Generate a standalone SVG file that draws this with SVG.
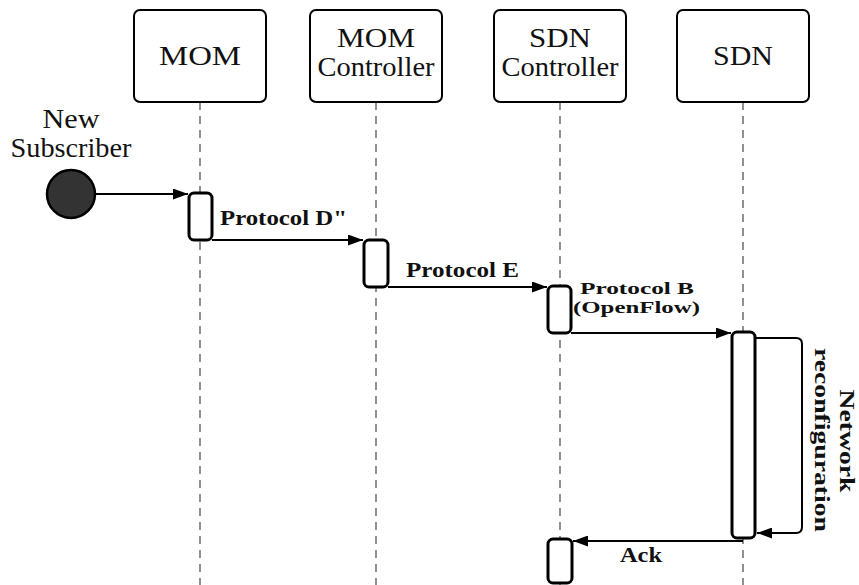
<svg xmlns="http://www.w3.org/2000/svg" width="859" height="585" viewBox="0 0 859 585">
<style>
.box{fill:#fff;stroke:#000;stroke-width:2}
.life{stroke:#555;stroke-width:1.3;stroke-dasharray:8 6;fill:none}
.act{fill:#fff;stroke:#000;stroke-width:3}
.msg{stroke:#000;stroke-width:2;fill:none}
.t{font-family:"Liberation Serif",serif;font-size:27px;fill:#111;text-anchor:middle}
.b{font-family:"Liberation Serif",serif;font-size:20px;font-weight:bold;fill:#111}
.s{font-size:16px}
</style>
<defs>
<marker id="ah" markerWidth="15" markerHeight="11" refX="15" refY="5.5" orient="auto" markerUnits="userSpaceOnUse">
<path d="M0,0 L15,5.5 L0,11 Z" fill="#000"/>
</marker>
</defs>
<g id="lifelines">
<line class="life" x1="200" y1="102" x2="200" y2="585"/>
<line class="life" x1="376" y1="102" x2="376" y2="585"/>
<line class="life" x1="560" y1="102" x2="560" y2="585"/>
<line class="life" x1="743" y1="102" x2="743" y2="585"/>
</g>
<g id="mom">
<rect class="box" x="134" y="10" width="132" height="92" rx="6"/>
<text class="t" x="200" y="65" textLength="82" lengthAdjust="spacingAndGlyphs">MOM</text>
</g>
<g id="mom-controller">
<rect class="box" x="310" y="10" width="132" height="92" rx="6"/>
<text class="t" x="376" y="47" textLength="78" lengthAdjust="spacingAndGlyphs">MOM</text>
<text class="t" x="376" y="76" textLength="117" lengthAdjust="spacingAndGlyphs">Controller</text>
</g>
<g id="sdn-controller">
<rect class="box" x="494" y="10" width="132" height="92" rx="6"/>
<text class="t" x="560" y="47" textLength="62" lengthAdjust="spacingAndGlyphs">SDN</text>
<text class="t" x="560" y="76" textLength="117" lengthAdjust="spacingAndGlyphs">Controller</text>
</g>
<g id="sdn">
<rect class="box" x="677" y="10" width="132" height="92" rx="6"/>
<text class="t" x="743" y="65" textLength="60" lengthAdjust="spacingAndGlyphs">SDN</text>
</g>
<g id="new-subscriber">
<text class="t" x="71" y="128" textLength="57" lengthAdjust="spacingAndGlyphs">New</text>
<text class="t" x="71" y="157" textLength="121" lengthAdjust="spacingAndGlyphs">Subscriber</text>
<circle cx="71" cy="194" r="24" fill="#333" stroke="#000" stroke-width="2.5"/>
</g>
<g id="activations">
<rect class="act" x="189" y="193" width="23" height="47" rx="5"/>
<rect class="act" x="364" y="240" width="24" height="47" rx="5"/>
<rect class="act" x="548" y="286" width="23" height="47" rx="5"/>
<rect class="act" x="732" y="332" width="23" height="206" rx="5"/>
<rect class="act" x="548" y="539" width="24" height="44" rx="5"/>
</g>
<g id="connectors">
<line class="msg" x1="95" y1="194" x2="188" y2="194" marker-end="url(#ah)"/>
<line class="msg" x1="212" y1="240" x2="363" y2="240" marker-end="url(#ah)"/>
<line class="msg" x1="388" y1="287" x2="547" y2="287" marker-end="url(#ah)"/>
<line class="msg" x1="571" y1="333" x2="731" y2="333" marker-end="url(#ah)"/>
<path class="msg" d="M756,338 L796,338 Q802,338 802,344 L802,527 Q802,533 796,533 L757,533" marker-end="url(#ah)"/>
<line class="msg" x1="743" y1="541" x2="573" y2="541" marker-end="url(#ah)"/>
</g>
<g id="labels">
<text class="b" x="220" y="225" textLength="127" lengthAdjust="spacingAndGlyphs">Protocol D"</text>
<text class="b" x="406" y="277" textLength="113" lengthAdjust="spacingAndGlyphs">Protocol E</text>
<text class="b s" x="580" y="294" textLength="114" lengthAdjust="spacingAndGlyphs">Protocol B</text>
<text class="b s" x="573" y="313" textLength="127" lengthAdjust="spacingAndGlyphs">(OpenFlow)</text>
<text class="b" x="620" y="562" textLength="42" lengthAdjust="spacingAndGlyphs">Ack</text>
<text class="b" transform="translate(840,441) rotate(90)" text-anchor="middle" textLength="103" lengthAdjust="spacingAndGlyphs">Network</text>
<text class="b" transform="translate(815,440) rotate(90)" text-anchor="middle" textLength="184" lengthAdjust="spacingAndGlyphs">reconfiguration</text>
</g>
</svg>
